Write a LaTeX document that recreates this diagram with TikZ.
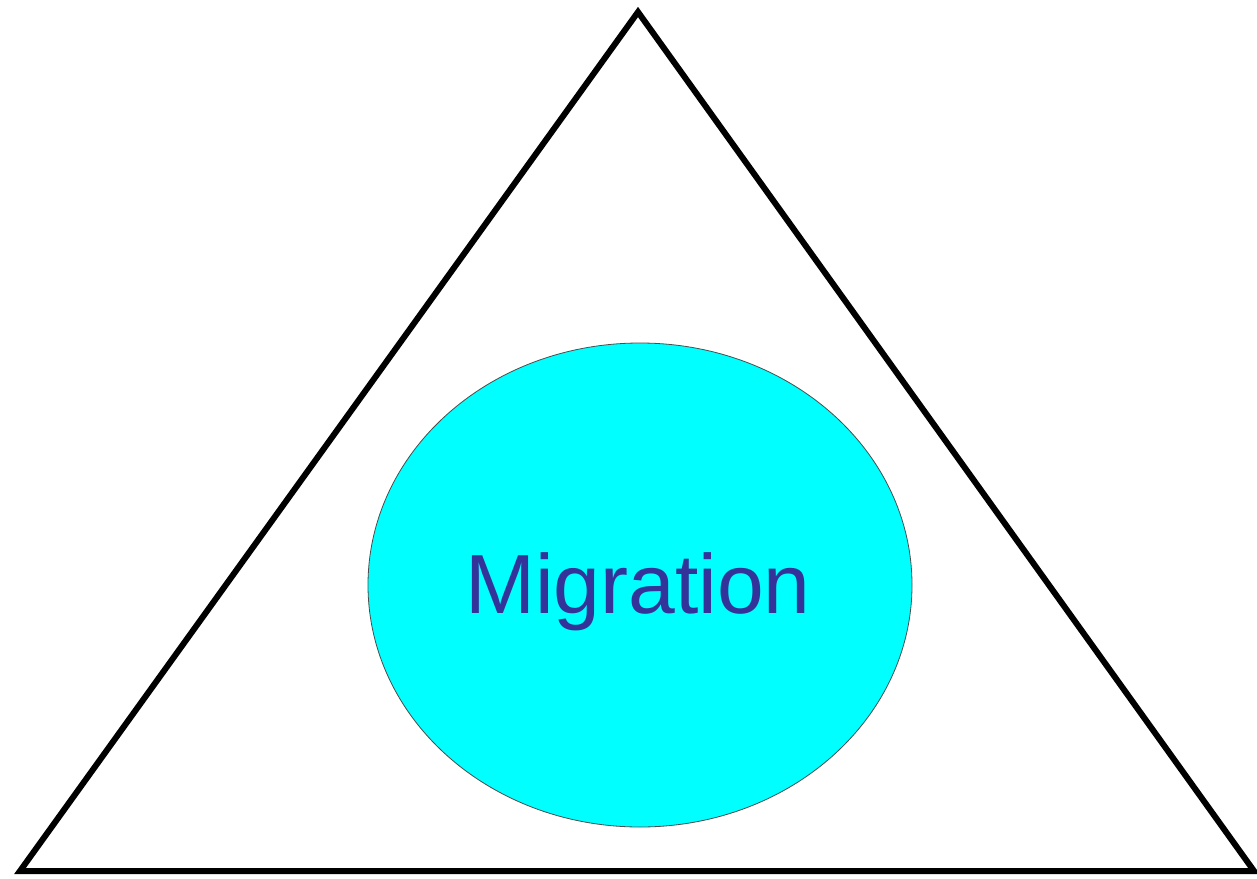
\documentclass[tikz,border=0pt]{standalone}
\usepackage{fontspec}
\usetikzlibrary{shapes.geometric}
\setmainfont{Liberation Sans}
\definecolor{migtext}{HTML}{333399}
\definecolor{migfill}{HTML}{00FFFF}
\begin{document}
\begin{tikzpicture}[x=1pt,y=-1pt,
  tri/.style={line width=6pt, line join=miter, draw=black},
  blob/.style={ellipse, draw=black!70, line width=0.8pt, fill=migfill, minimum width=544pt, minimum height=484pt, inner sep=0pt},
  lbl/.style={text=migtext, font=\fontsize{84}{90}\selectfont, inner sep=0pt, anchor=base}]
\useasboundingbox (0,0) rectangle (1257,878);
\fill[white] (0,0) rectangle (1257,878);
\coordinate (apex) at (638,12);
\coordinate (bl) at (20,871);
\coordinate (br) at (1254,871);
\draw[tri] (apex) -- (br) -- (bl) -- cycle;
\node[blob] (mig) at (640,585) {};
\node[lbl] (miglabel) at (638,613) {Migration};
\end{tikzpicture}
\end{document}
